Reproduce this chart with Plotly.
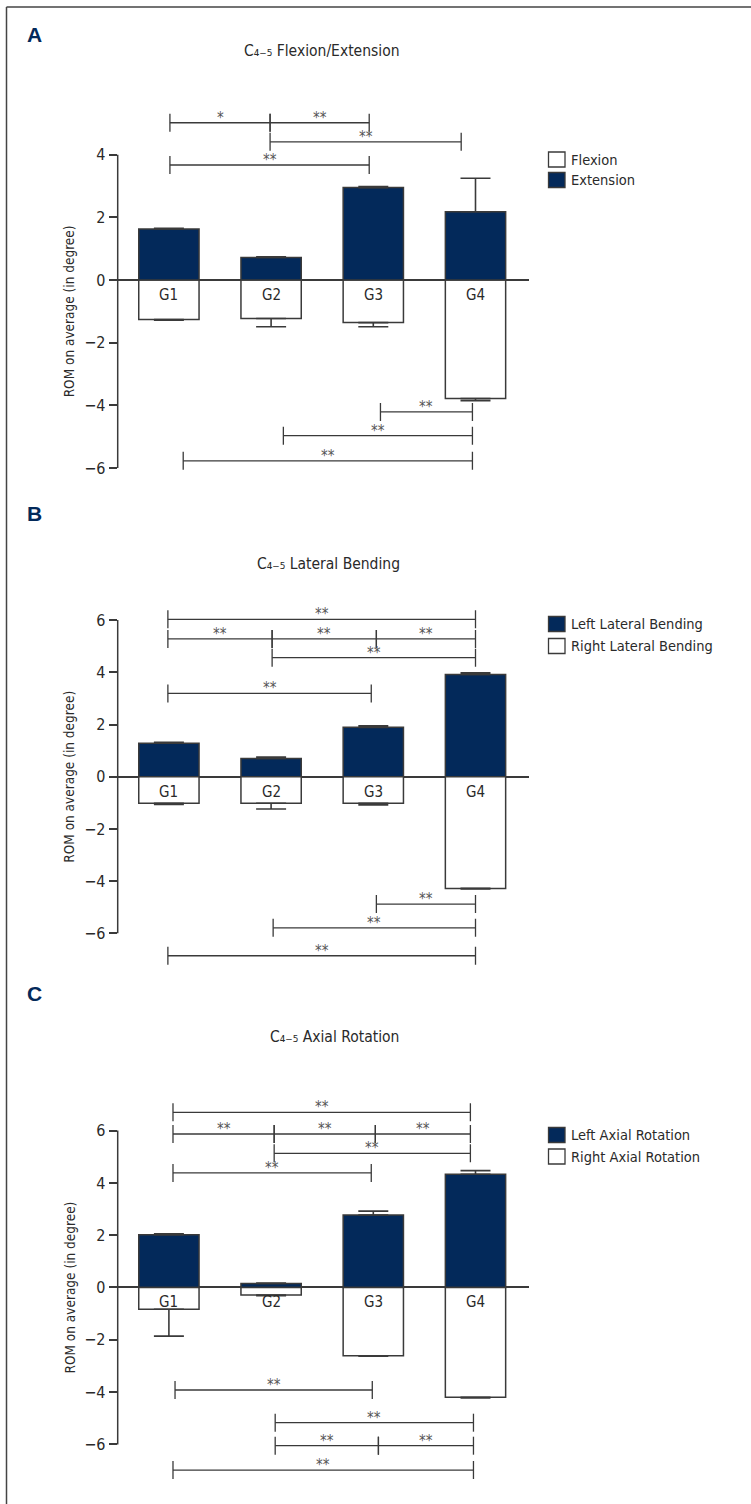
import plotly.graph_objects as go

# ---------------- data ----------------
groups = ["G1", "G2", "G3", "G4"]

# Panel A: C4-5 Flexion/Extension
a_flexion = [-1.26, -1.23, -1.36, -3.78]
a_flexion_err = [0.02, 0.26, 0.13, 0.07]
a_extension = [1.63, 0.72, 2.95, 2.18]
a_extension_err = [0.02, 0.02, 0.03, 1.07]

# Panel B: C4-5 Lateral Bending
b_left = [1.28, 0.70, 1.89, 3.92]
b_left_err = [0.04, 0.05, 0.06, 0.06]
b_right = [-1.02, -1.02, -1.02, -4.28]
b_right_err = [0.04, 0.22, 0.06, 0.02]

# Panel C: C4-5 Axial Rotation
c_left = [2.02, 0.15, 2.77, 4.33]
c_left_err = [0.03, 0.02, 0.15, 0.14]
c_right = [-0.83, -0.29, -2.61, -4.20]
c_right_err = [1.03, 0.02, 0.02, 0.02]

# significance brackets: (start group pos, end group pos, level in degrees, label)
a_brackets = [
    (0.01, 0.99, 5.02, "*"), (0.99, 1.96, 5.02, "**"),
    (0.99, 2.86, 4.41, "**"), (0.01, 1.96, 3.67, "**"),
    (2.07, 2.97, -4.21, "**"), (1.12, 2.97, -4.97, "**"), (0.14, 2.97, -5.77, "**"),
]
b_brackets = [
    (-0.01, 3.00, 6.03, "**"),
    (-0.01, 1.01, 5.28, "**"), (1.01, 2.03, 5.28, "**"), (2.03, 3.00, 5.28, "**"),
    (1.01, 3.00, 4.56, "**"), (-0.01, 1.98, 3.19, "**"),
    (2.03, 3.00, -4.88, "**"), (1.02, 3.00, -5.79, "**"), (-0.01, 3.00, -6.86, "**"),
]
c_brackets = [
    (0.04, 2.95, 6.70, "**"),
    (0.04, 1.03, 5.87, "**"), (1.03, 2.02, 5.87, "**"), (2.02, 2.95, 5.87, "**"),
    (1.03, 2.95, 5.13, "**"), (0.04, 1.98, 4.38, "**"),
    (0.06, 1.99, -3.92, "**"), (1.04, 2.98, -5.17, "**"),
    (1.04, 2.05, -6.05, "**"), (2.05, 2.98, -6.05, "**"), (0.04, 2.98, -6.98, "**"),
]

y_title = "ROM on average (in degree)"
titles = ["C₄₋₅ Flexion/Extension", "C₄₋₅ Lateral Bending", "C₄₋₅ Axial Rotation"]

# ---------------- style / layout ----------------
W, H = 751, 1504
NAVY = "#03295a"
EDGE = "#3a3a3a"
TXT = "#2a2a2a"
STAR = "#555555"
FONT = "DejaVu Sans Condensed, Roboto, sans-serif"
BOLD = "Liberation Sans, Arial, sans-serif"

X_LEFT_PX, X_RIGHT_PX = 117.7, 529.0
G1_PX, STEP_PX = 168.9, 102.2
x_range = [(X_LEFT_PX - G1_PX) / STEP_PX, (X_RIGHT_PX - G1_PX) / STEP_PX]
xs = list(range(len(groups)))


def px_x(p):
    return p / W


def px_y(p):
    return 1 - p / H


panels = [
    dict(letter="A", letter_y=34.5, title=titles[0], title_x=322, title_y=51,
         zero=280.0, unit=31.33, yr=[-6.3, 5.5], spine=[-6, 4], ticks=[-6, -4, -2, 0, 2, 4],
         series=[("Flexion", a_flexion, a_flexion_err, "white"),
                 ("Extension", a_extension, a_extension_err, NAVY)],
         legend_y=[159.5, 180.0], brackets=a_brackets),
    dict(letter="B", letter_y=513.5, title=titles[1], title_x=328, title_y=564,
         zero=776.7, unit=26.1, yr=[-7.3, 6.6], spine=[-6, 6], ticks=[-6, -4, -2, 0, 2, 4, 6],
         series=[("Left Lateral Bending", b_left, b_left_err, NAVY),
                 ("Right Lateral Bending", b_right, b_right_err, "white")],
         legend_y=[624.0, 646.0], brackets=b_brackets),
    dict(letter="C", letter_y=993.0, title=titles[2], title_x=334, title_y=1037,
         zero=1287.5, unit=26.15, yr=[-7.4, 7.3], spine=[-6, 6], ticks=[-6, -4, -2, 0, 2, 4, 6],
         series=[("Left Axial Rotation", c_left, c_left_err, NAVY),
                 ("Right Axial Rotation", c_right, c_right_err, "white")],
         legend_y=[1135.0, 1156.5], brackets=c_brackets),
]

fig = go.Figure()
shapes = []
annotations = []
layout = dict(
    width=W, height=H, autosize=False,
    margin=dict(l=0, r=0, t=0, b=0),
    paper_bgcolor="white", plot_bgcolor="rgba(0,0,0,0)",
    showlegend=False, barmode="overlay",
    font=dict(family=FONT, size=15, color=TXT),
)

for i, p in enumerate(panels, start=1):
    xa = "x" if i == 1 else f"x{i}"
    ya = "y" if i == 1 else f"y{i}"
    top_px = p["zero"] - p["yr"][1] * p["unit"]
    bot_px = p["zero"] - p["yr"][0] * p["unit"]
    layout["xaxis" if i == 1 else f"xaxis{i}"] = dict(
        domain=[px_x(X_LEFT_PX), px_x(X_RIGHT_PX)], range=x_range, anchor=ya,
        visible=False, fixedrange=True)
    layout["yaxis" if i == 1 else f"yaxis{i}"] = dict(
        domain=[px_y(bot_px), px_y(top_px)], range=p["yr"], anchor=xa,
        showgrid=False, showline=False, zeroline=True, zerolinecolor=EDGE, zerolinewidth=1.5,
        tickmode="array", tickvals=p["ticks"], ticks="outside", ticklen=8, tickwidth=1.5,
        tickcolor=EDGE, tickfont=dict(family=FONT, size=16, color=TXT), fixedrange=True)

    for name, vals, errs, fill in p["series"]:
        fig.add_trace(go.Bar(
            x=xs, y=vals, name=name, width=0.59, xaxis=xa, yaxis=ya,
            marker=dict(color=fill, line=dict(color=EDGE, width=1.5)),
            error_y=dict(type="data", symmetric=False,
                         array=[e if v > 0 else 0 for v, e in zip(vals, errs)],
                         arrayminus=[e if v < 0 else 0 for v, e in zip(vals, errs)],
                         color=EDGE, thickness=1.6, width=15),
            hoverinfo="skip",
        ))

    # y-axis spine
    shapes.append(dict(type="line", xref=f"{xa} domain", yref=ya, x0=0, x1=0,
                       y0=p["spine"][0], y1=p["spine"][1], line=dict(color=EDGE, width=1.5)))

    # group labels just below zero line
    for gx, g in zip(xs, groups):
        annotations.append(dict(x=gx, y=0, xref=xa, yref=ya, text=g, showarrow=False,
                                yanchor="top", yshift=-4, font=dict(family=FONT, size=15, color=TXT)))

    # significance brackets
    for x0, x1, lvl, lab in p["brackets"]:
        shapes.append(dict(type="line", xref=xa, yref=ya, x0=x0, x1=x1, y0=lvl, y1=lvl,
                           line=dict(color=EDGE, width=1.3)))
        for xe in (x0, x1):
            shapes.append(dict(type="line", xref=xa, yref=ya, x0=xe, x1=xe,
                               ysizemode="pixel", yanchor=lvl, y0=-9, y1=9,
                               line=dict(color=EDGE, width=1.3)))
        annotations.append(dict(x=(x0 + x1) / 2, y=lvl, xref=xa, yref=ya, text=lab,
                                showarrow=False, yanchor="middle", yshift=5,
                                font=dict(family=FONT, size=15, color=STAR)))

    # panel letter
    annotations.append(dict(x=px_x(25), y=px_y(p["letter_y"]), xref="paper", yref="paper",
                            text=p["letter"], showarrow=False, xanchor="left",
                            yanchor="middle", font=dict(family=BOLD, size=21, color=NAVY, weight="bold")))
    # panel title
    annotations.append(dict(x=px_x(p["title_x"]), y=px_y(p["title_y"]), xref="paper", yref="paper",
                            text=p["title"], showarrow=False, xanchor="center", yanchor="middle",
                            font=dict(family=FONT, size=15.5, color=TXT)))
    # y-axis title
    mid_px = p["zero"] - (p["spine"][0] + p["spine"][1]) / 2 * p["unit"]
    annotations.append(dict(x=px_x(69), y=px_y(mid_px), xref="paper", yref="paper",
                            text=y_title, textangle=-90, showarrow=False,
                            xanchor="center", yanchor="middle",
                            font=dict(family=FONT, size=13.5, color=TXT)))
    # legend (manual)
    for (name, vals, errs, fill), ly in zip(p["series"], p["legend_y"]):
        shapes.append(dict(type="rect", xref="paper", yref="paper",
                           x0=px_x(548.5), x1=px_x(565), y0=px_y(ly + 7.5), y1=px_y(ly - 7.5),
                           fillcolor=fill, line=dict(color=EDGE, width=1.3)))
        annotations.append(dict(x=px_x(568.5), y=px_y(ly), xref="paper", yref="paper", text=name,
                                showarrow=False, xanchor="left", yanchor="middle",
                                font=dict(family=FONT, size=14.5, color=TXT)))

# outer frame (top and left edges)
shapes.append(dict(type="line", xref="paper", yref="paper", x0=px_x(6.5), x1=1.0,
                   y0=px_y(7), y1=px_y(7), line=dict(color="#444444", width=1.5)))
shapes.append(dict(type="line", xref="paper", yref="paper", x0=px_x(6.5), x1=px_x(6.5),
                   y0=px_y(7), y1=0.0, line=dict(color="#444444", width=1.5)))

layout["shapes"] = shapes
layout["annotations"] = annotations
fig.update_layout(**layout)

fig.write_html("out.html", config={"displayModeBar": False},
               post_script="document.body.style.margin='0';document.body.style.overflow='hidden';")
